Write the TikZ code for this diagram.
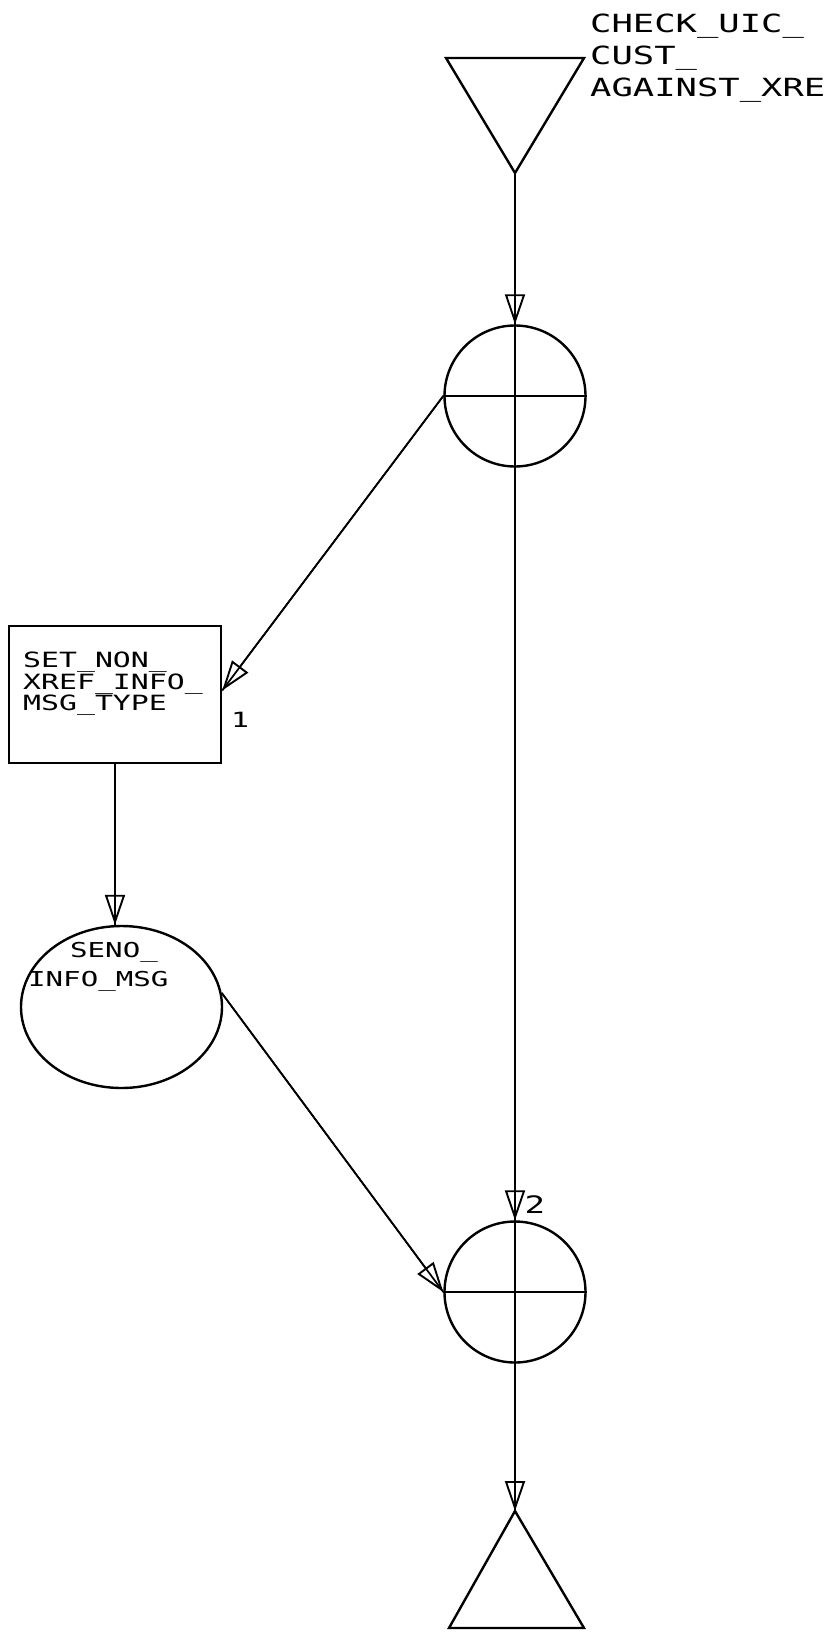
\documentclass[tikz,border=0pt]{standalone}
\usepackage{fontspec}
\usetikzlibrary{arrows.meta,shapes.geometric,calc}
\newfontfamily\plotfont[FakeStretch=1.42]{DejaVu Sans Mono}
\tikzset{
  shapeline/.style={draw=black, line width=2.4pt},
  flow/.style={draw=black, line width=1.7pt,
    -{Triangle[open,length=30pt,width=20pt,line width=1.9pt]},
    postaction={draw,arrows=-}},
  bigtxt/.style={font=\plotfont\fontsize{25}{32}\selectfont, inner sep=0pt, align=left},
  boxtxt/.style={font=\plotfont\fontsize{21}{20.5}\selectfont, inner sep=0pt, align=left},
  elltxt/.style={font=\plotfont\fontsize{20.5}{29}\selectfont, inner sep=0pt, align=left},
  junction/.style={shapeline, circle, minimum size=141pt, inner sep=0pt},
}
\begin{document}
\begin{tikzpicture}[x=1pt,y=-1pt]
\useasboundingbox (0,0) rectangle (825,1632);
% top triangle (entry)
\coordinate (tl) at (446,58);
\coordinate (tr) at (584,58);
\coordinate (tapex) at (515,173);
\draw[shapeline, line join=miter] (tl) -- (tr) -- (tapex) -- cycle;
\node[bigtxt, anchor=north west] (title) at (590,14) {CHECK\_UIC\_\\CUST\_\\AGAINST\_XRE};
% junction circles
\node[junction] (c1) at (515,396) {};
\draw[shapeline] (c1.west) -- (c1.east);
\node[junction] (c2) at (515,1292) {};
\draw[shapeline] (c2.west) -- (c2.east);
% bottom triangle (exit)
\coordinate (bapex) at (515,1511);
\coordinate (bl) at (449,1628);
\coordinate (br) at (584,1628);
\draw[shapeline, line join=miter] (bapex) -- (br) -- (bl) -- cycle;
% box
\node[shapeline, rectangle, minimum width=212pt, minimum height=137pt, inner sep=0pt] (box) at (115,694.5) {};
\node[boxtxt, anchor=north west] (boxlbl) at (23,652) {SET\_NON\_\\XREF\_INFO\_\\MSG\_TYPE};
\node[boxtxt, anchor=center] (one) at (240,720) {1};
% ellipse
\node[shapeline, ellipse, minimum width=201pt, minimum height=162pt, inner sep=0pt] (ell) at (121.5,1007) {};
\node[elltxt, anchor=north west] (elllbl) at (28,942) {\hspace*{42pt}SENO\_\\INFO\_MSG};
% label 2
\node[boxtxt, font=\plotfont\fontsize{24}{24}\selectfont, anchor=center] (two) at (535,1205) {2};
% connectors
\draw[flow] (tapex) -- (c1.north);
\draw[flow] (c1.west) -- ($(box.east)+(0,-4)$);
\draw[flow] (box.south) -- (box.south |- ell.north);
\draw[flow] (ell.8) -- (c2.west);
\draw[flow] (c1.north) -- (c2.north);
\draw[flow] (c2.north) -- (bapex);
\end{tikzpicture}
\end{document}
